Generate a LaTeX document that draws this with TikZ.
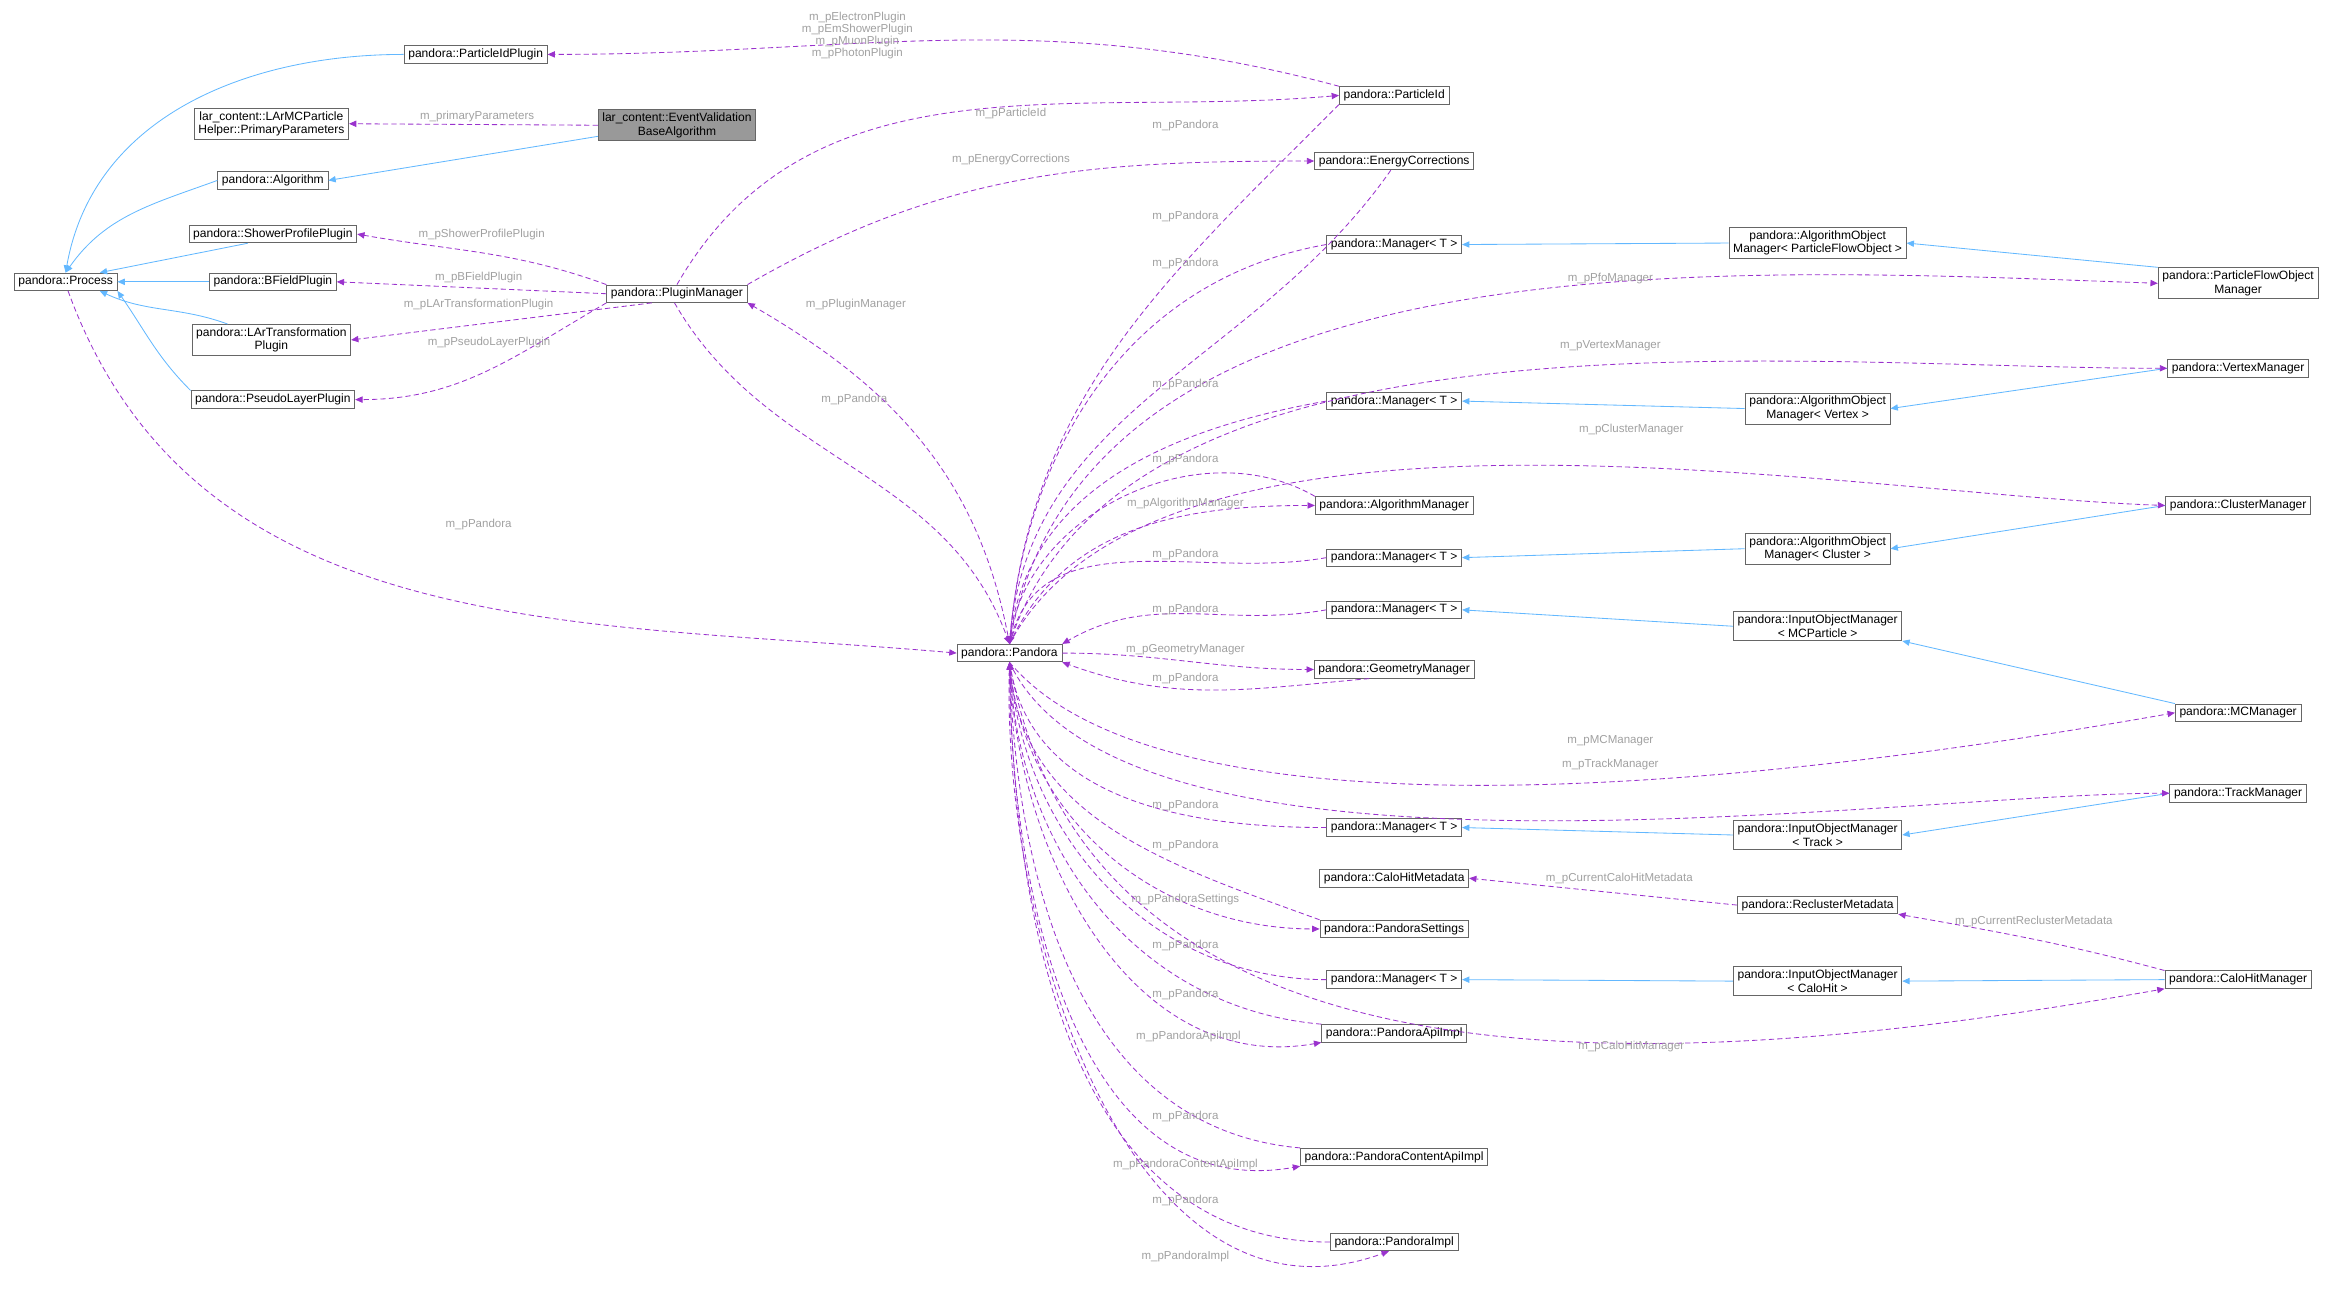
\documentclass[tikz,border=0pt]{standalone}
\usepackage{fontspec}
\setmainfont{Liberation Sans}
\usetikzlibrary{arrows.meta, positioning}
\definecolor{usecol}{RGB}{154,50,205}
\definecolor{inhcol}{RGB}{99,184,255}
\definecolor{lblcol}{RGB}{160,160,160}
\begin{document}
\begin{tikzpicture}[x=0.02cm, y=-0.02cm, >={Triangle[length=2.8pt,width=2.4pt]},
  cls/.style={draw=black!60, line width=0.3pt, fill=white, inner xsep=1.6pt, inner ysep=1.2pt, align=center, font=\fontsize{4.6}{5.2}\selectfont},
  inh/.style={->, draw=inhcol, line width=0.32pt},
  use/.style={->, draw=usecol, line width=0.32pt, dash pattern=on 2pt off 1.2pt},
  lbl/.style={text=lblcol, align=center, font=\fontsize{4.4}{4.6}\selectfont, inner sep=0.4pt}]

	\useasboundingbox (0,0) rectangle (1568,874.6);

	% left column
	\node[cls] (pidplug) at (319,36.5) {pandora::ParticleIdPlugin};
	\node[cls] (primp) at (182,83) {lar\_content::LArMCParticle\\Helper::PrimaryParameters};
	\node[cls, fill=black!40] (evba) at (454,84) {lar\_content::EventValidation\\BaseAlgorithm};
	\node[cls] (algo) at (183,121) {pandora::Algorithm};
	\node[cls] (shower) at (183,157) {pandora::ShowerProfilePlugin};
	\node[cls] (proc) at (44,189) {pandora::Process};
	\node[cls] (bfield) at (183,189) {pandora::BFieldPlugin};
	\node[cls] (lartp) at (182,228) {pandora::LArTransformation\\Plugin};
	\node[cls] (pseudo) at (183,268) {pandora::PseudoLayerPlugin};
	\node[cls] (plugm) at (454,197) {pandora::PluginManager};
	\node[cls] (pandora) at (677,438) {pandora::Pandora};

	% middle column
	\node[cls] (pid) at (935,64) {pandora::ParticleId};
	\node[cls] (encorr) at (935,108) {pandora::EnergyCorrections};
	\node[cls] (mgra) at (935,164) {pandora::Manager< T >};
	\node[cls] (mgrb) at (935,269) {pandora::Manager< T >};
	\node[cls] (algm) at (935,339) {pandora::AlgorithmManager};
	\node[cls] (mgrc) at (935,374) {pandora::Manager< T >};
	\node[cls] (mgrd) at (935,409) {pandora::Manager< T >};
	\node[cls] (geom) at (935,449) {pandora::GeometryManager};
	\node[cls] (mgre) at (935,555) {pandora::Manager< T >};
	\node[cls] (chmeta) at (935,589) {pandora::CaloHitMetadata};
	\node[cls] (pset) at (935,623) {pandora::PandoraSettings};
	\node[cls] (mgrf) at (935,657) {pandora::Manager< T >};
	\node[cls] (papi) at (935,693) {pandora::PandoraApiImpl};
	\node[cls] (pcapi) at (935,776) {pandora::PandoraContentApiImpl};
	\node[cls] (pimpl) at (935,833) {pandora::PandoraImpl};

	% right columns
	\node[cls] (aompfo) at (1219,163) {pandora::AlgorithmObject\\Manager< ParticleFlowObject >};
	\node[cls] (aomvtx) at (1219,274) {pandora::AlgorithmObject\\Manager< Vertex >};
	\node[cls] (aomcl) at (1219,368) {pandora::AlgorithmObject\\Manager< Cluster >};
	\node[cls] (iommc) at (1219,420) {pandora::InputObjectManager\\< MCParticle >};
	\node[cls] (iomtr) at (1219,560) {pandora::InputObjectManager\\< Track >};
	\node[cls] (recm) at (1219,607) {pandora::ReclusterMetadata};
	\node[cls] (iomch) at (1219,658) {pandora::InputObjectManager\\< CaloHit >};
	\node[cls] (pfom) at (1501,190) {pandora::ParticleFlowObject\\Manager};
	\node[cls] (vtxm) at (1501,247) {pandora::VertexManager};
	\node[cls] (clm) at (1501,339) {pandora::ClusterManager};
	\node[cls] (mcm) at (1501,478) {pandora::MCManager};
	\node[cls] (trm) at (1501,532) {pandora::TrackManager};
	\node[cls] (chm) at (1501,657) {pandora::CaloHitManager};

	% inheritance
	\draw[inh] (evba.188) -- (algo.east);
	\draw[inh] (algo.west) to[out=200,in=55] (proc.north);
	\draw[inh] (pidplug.west) to[out=180,in=80] (proc.north);
	\draw[inh] (shower.200) -- (proc.15);
	\draw[inh] (bfield.west) -- (proc.east);
	\draw[inh] (lartp.160) to[out=160,in=-25] (proc.-15);
	\draw[inh] (pseudo.north west) to[out=135,in=-55] (proc.south east);
	\draw[inh] (aompfo.west) -- (mgra.east);
	\draw[inh] (pfom.north west) -- (aompfo.east);
	\draw[inh] (aomvtx.west) -- (mgrb.east);
	\draw[inh] (vtxm.west) -- (aomvtx.east);
	\draw[inh] (aomcl.west) -- (mgrc.east);
	\draw[inh] (clm.west) -- (aomcl.east);
	\draw[inh] (iommc.west) -- (mgrd.east);
	\draw[inh] (mcm.north west) -- (iommc.south east);
	\draw[inh] (iomtr.west) -- (mgre.east);
	\draw[inh] (trm.west) -- (iomtr.east);
	\draw[inh] (iomch.west) -- (mgrf.east);
	\draw[inh] (chm.west) -- (iomch.east);

	% usage, left part
	\draw[use] (evba.west) -- (primp.east);
	\node[lbl] at (320,78) {m\_primaryParameters};
	\draw[use] (pid.north west) to[out=165,in=0] (pidplug.east);
	\node[lbl] at (575,24) {m\_pElectronPlugin\\m\_pEmShowerPlugin\\m\_pMuonPlugin\\m\_pPhotonPlugin};
	\draw[use] (plugm.north) to[out=60,in=185] (pid.west);
	\node[lbl] at (678,76) {m\_pParticleId};
	\draw[use] (plugm.north east) to[out=30,in=180] (encorr.west);
	\node[lbl] at (678,107) {m\_pEnergyCorrections};
	\draw[use] (plugm.north west) to[out=160,in=-10] (shower.east);
	\node[lbl] at (323,157) {m\_pShowerProfilePlugin};
	\draw[use] (plugm.west) -- (bfield.east);
	\node[lbl] at (321,186) {m\_pBFieldPlugin};
	\draw[use] (plugm.200) -- (lartp.east);
	\node[lbl] at (321,204) {m\_pLArTransformationPlugin};
	\draw[use] (plugm.south west) to[out=-150,in=0] (pseudo.east);
	\node[lbl] at (328,230) {m\_pPseudoLayerPlugin};
	\draw[use] (plugm.-105) to[out=-60,in=110] (pandora.north);
	\node[lbl] at (573,268) {m\_pPandora};
	\draw[use] (pandora.north) to[out=100,in=-30] (plugm.south east);
	\node[lbl] at (574,204) {m\_pPluginManager};
	\draw[use] (proc.-75) to[out=-70,in=175] (pandora.west);
	\node[lbl] at (321,352) {m\_pPandora};

	% usage, pandora upper part
	\draw[use] (pid.south west) to[out=-135,in=85] (pandora.north);
	\node[lbl] at (795,84) {m\_pPandora};
	\draw[use] (encorr.-110) to[out=-125,in=85] (pandora.north);
	\node[lbl] at (795,145) {m\_pPandora};
	\draw[use] (mgra.west) to[out=190,in=85] (pandora.north);
	\node[lbl] at (795,177) {m\_pPandora};
	\draw[use] (pandora.north) to[out=80,in=178, looseness=0.9] (pfom.west);
	\node[lbl] at (1080,187) {m\_pPfoManager};
	\draw[use] (pandora.north) to[out=72,in=180, looseness=0.8] (vtxm.west);
	\node[lbl] at (1080,232) {m\_pVertexManager};
	\draw[use] (mgrb.west) to[out=190,in=83] (pandora.north);
	\node[lbl] at (795,258) {m\_pPandora};
	\draw[use] (pandora.north) to[out=62,in=178, looseness=0.7] (clm.west);
	\node[lbl] at (1094,288) {m\_pClusterManager};
	\draw[use] (algm.north west) to[out=150,in=82] (pandora.north);
	\node[lbl] at (795,308) {m\_pPandora};
	\draw[use] (pandora.north) to[out=65,in=180] (algm.west);
	\node[lbl] at (795,338) {m\_pAlgorithmManager};
	\draw[use] (mgrc.west) to[out=190,in=75] (pandora.north);
	\node[lbl] at (795,372) {m\_pPandora};
	\draw[use] (mgrd.west) to[out=190,in=30] (pandora.north east);
	\node[lbl] at (795,409) {m\_pPandora};
	\draw[use] (pandora.east) to[out=0,in=180] (geom.west);
	\node[lbl] at (795,436) {m\_pGeometryManager};
	\draw[use] (geom.200) to[out=185,in=-20] (pandora.south east);
	\node[lbl] at (795,455) {m\_pPandora};

	% usage, pandora lower part
	\draw[use] (pandora.south) to[out=-50,in=190, looseness=0.6] (mcm.west);
	\node[lbl] at (1080,497) {m\_pMCManager};
	\draw[use] (pandora.south) to[out=-65,in=180, looseness=0.6] (trm.west);
	\node[lbl] at (1080,513) {m\_pTrackManager};
	\draw[use] (mgre.west) to[out=180,in=-80] (pandora.south);
	\node[lbl] at (795,540) {m\_pPandora};
	\draw[use] (pset.north west) to[out=160,in=-85] (pandora.south);
	\node[lbl] at (795,567) {m\_pPandora};
	\draw[use] (pandora.south) to[out=-85,in=180] (pset.west);
	\node[lbl] at (795,603) {m\_pPandoraSettings};
	\draw[use] (recm.west) -- (chmeta.east);
	\node[lbl] at (1086,589) {m\_pCurrentCaloHitMetadata};
	\draw[use] (chm.north west) to[out=165,in=-10] (recm.south east);
	\node[lbl] at (1364,618) {m\_pCurrentReclusterMetadata};
	\draw[use] (mgrf.west) to[out=180,in=-85] (pandora.south);
	\node[lbl] at (795,634) {m\_pPandora};
	\draw[use] (papi.north west) to[out=175,in=-87] (pandora.south);
	\node[lbl] at (795,667) {m\_pPandora};
	\draw[use] (pandora.south) to[out=-88,in=190] (papi.south west);
	\node[lbl] at (797,695) {m\_pPandoraApiImpl};
	\draw[use] (pandora.south) to[out=-80,in=190] (chm.south west);
	\node[lbl] at (1094,702) {m\_pCaloHitManager};
	\draw[use] (pcapi.north west) to[out=175,in=-88] (pandora.south);
	\node[lbl] at (795,749) {m\_pPandora};
	\draw[use] (pandora.south) to[out=-90,in=190] (pcapi.south west);
	\node[lbl] at (795,781) {m\_pPandoraContentApiImpl};
	\draw[use] (pimpl.west) to[out=180,in=-89] (pandora.south);
	\node[lbl] at (795,805) {m\_pPandora};
	\draw[use] (pandora.south) to[out=-92,in=200] (pimpl.-120);
	\node[lbl] at (795,843) {m\_pPandoraImpl};

\end{tikzpicture}
\end{document}
